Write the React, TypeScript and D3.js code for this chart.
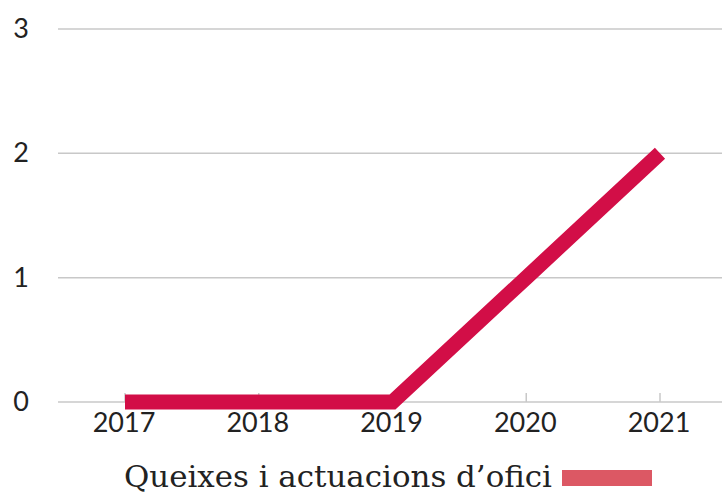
import React from "react";
import * as d3 from "d3";

const years = ["2017", "2018", "2019", "2020", "2021"];
const values = [0, 0, 0, 1, 2];
const yTicks = [0, 1, 2, 3];
const seriesName = "Queixes i actuacions d’ofici";

export default function App() {
  const W = 722, H = 493;
  const x = d3.scalePoint<string>().domain(years).range([125, 660]);
  const y = d3.scaleLinear().domain([0, 3]).range([402, 29]);
  const line = d3.line<number>().x((_, i) => x(years[i])!).y(d => y(d));
  return (
    <svg width={W} height={H} style={{ position: "absolute", left: 0, top: 0 }}>
      <rect width={W} height={H} fill="#fff" />
      {yTicks.map(t => (
        <g key={t}>
          <line x1={58} x2={722} y1={y(t)} y2={y(t)} stroke="#c8c8c8" strokeWidth={1.5} />
          <text x={29} y={y(t) + 9} textAnchor="end" fontFamily="Lato" fontSize={27} fill="#222">{t}</text>
        </g>
      ))}
      {years.map(yr => (
        <g key={yr}>
          <line x1={x(yr)} x2={x(yr)} y1={y(0)} y2={y(0) - 9} stroke="#c8c8c8" strokeWidth={1.5} />
          <text x={x(yr)! - 1} y={432} textAnchor="middle" fontFamily="Lato" fontSize={27} fill="#222">{yr}</text>
        </g>
      ))}
      <path d={line(values)!} fill="none" stroke="#d20e47" strokeWidth={15} strokeLinejoin="miter" strokeLinecap="butt" />
      <text x={124} y={487} fontFamily="DejaVu Serif" fontSize={30} textLength={428} lengthAdjust="spacingAndGlyphs" fill="#222">{seriesName}</text>
      <rect x={562} y={470} width={90} height={16} fill="#dc5864" />
    </svg>
  );
}
